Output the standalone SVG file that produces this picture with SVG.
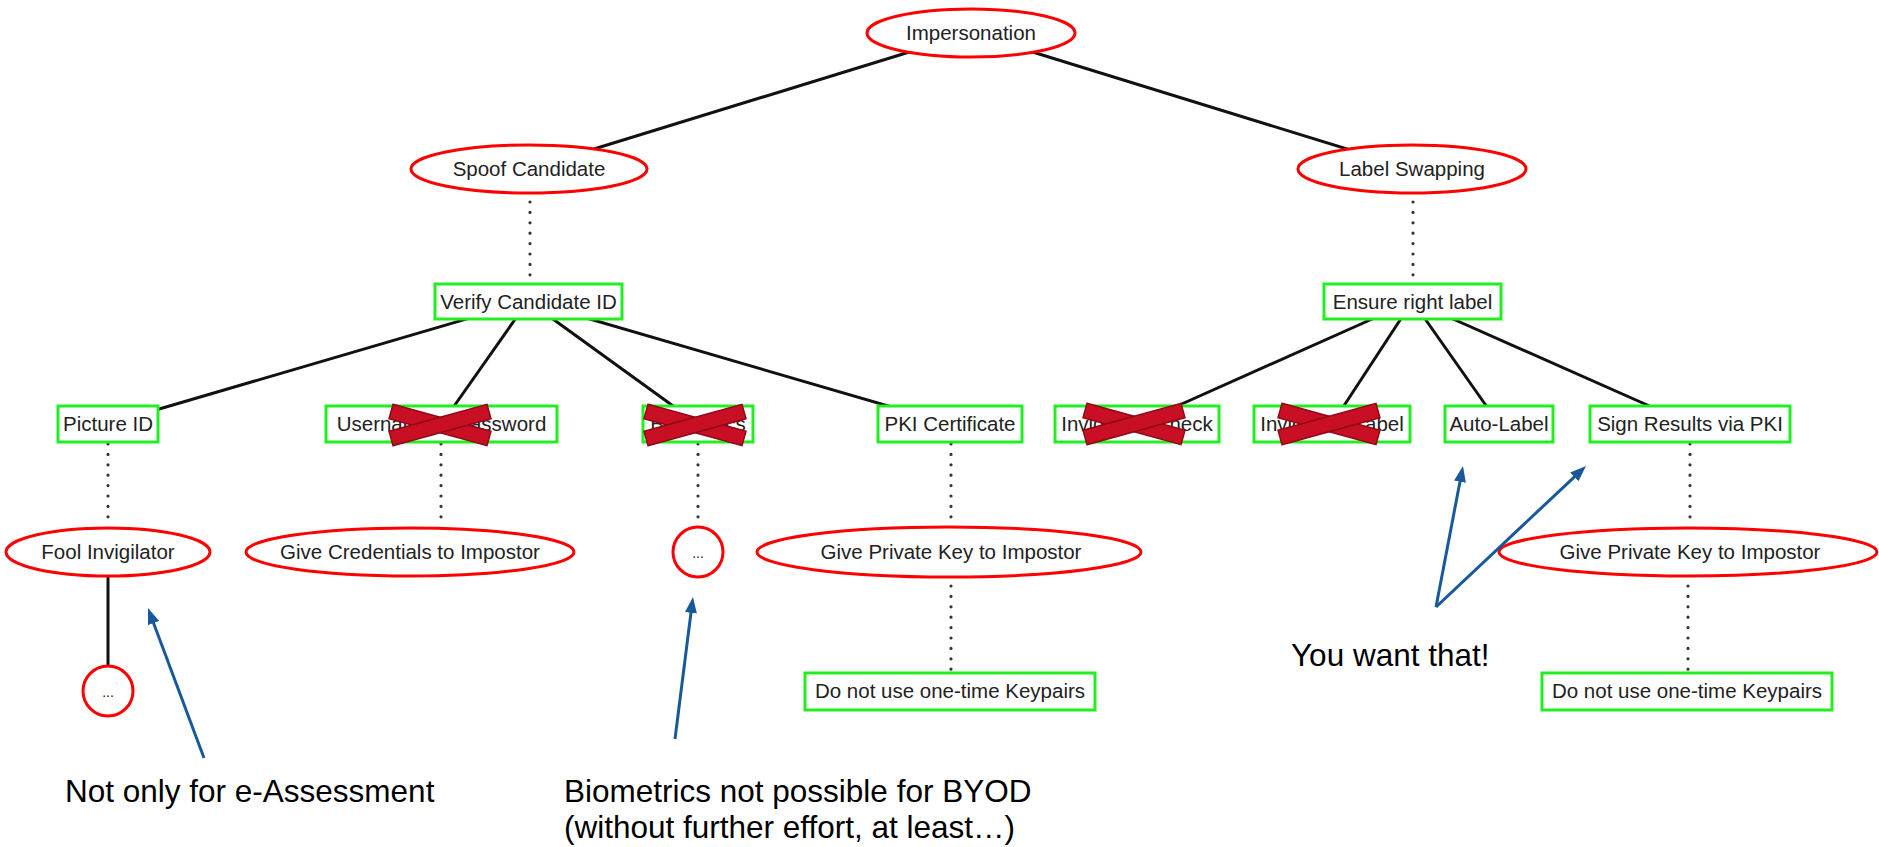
<svg xmlns="http://www.w3.org/2000/svg" width="1879" height="847" viewBox="0 0 1879 847">
  <defs>
    <style>
      .edge { stroke: #111; stroke-width: 3; fill: none; }
      .dots { stroke: #333; stroke-width: 3.2; stroke-linecap: round; stroke-dasharray: 0 10.4; fill: none; }
      .attack { fill: #fff; stroke: #ff0000; stroke-width: 3; }
      .defense { fill: #fff; stroke: #22ee22; stroke-width: 3; }
      .lbl { font-family: "Liberation Sans", Arial, sans-serif; font-size: 20.5px; fill: #222; text-anchor: middle; }
      .small { font-family: "Liberation Sans", Arial, sans-serif; font-size: 14px; fill: #222; text-anchor: middle; }
      .note { font-family: "Liberation Sans", Arial, sans-serif; font-size: 31.5px; fill: #000; }
      .pointer { stroke: #17599a; stroke-width: 3; fill: none; marker-end: url(#head); }
      .xbar { fill: #c90f24; stroke: #8e0a17; stroke-width: 1.5; stroke-linejoin: miter; }
    </style>
    <marker id="head" viewBox="0 0 16 12" refX="6" refY="6" markerWidth="16" markerHeight="12" markerUnits="userSpaceOnUse" orient="auto">
      <path d="M0,0 L16,6 L0,12 z" fill="#17599a"/>
    </marker>
    <!-- strike-through cross for ruled-out countermeasures -->
    <g id="xmark">
      <polygon class="xbar" points="6,0.3 104,27.3 100,41.7 2,14.7"/>
      <polygon class="xbar" points="6,41.7 104,14.7 100,0.3 2,27.3"/>
    </g>
  </defs>

  <rect width="1879" height="847" fill="#fff"/>

  <!-- tree connectors -->
  <g id="connectors">
    <line class="edge" x1="971" y1="33" x2="529" y2="169"/>
    <line class="edge" x1="971" y1="33" x2="1412" y2="169"/>
    <line class="dots" x1="530" y1="202" x2="530" y2="276"/>
    <line class="dots" x1="1413" y1="202" x2="1413" y2="276"/>
    <line class="edge" x1="528" y1="301" x2="108" y2="424"/>
    <line class="edge" x1="528" y1="301" x2="441.5" y2="424"/>
    <line class="edge" x1="528" y1="301" x2="698" y2="424"/>
    <line class="edge" x1="528" y1="301" x2="950" y2="424"/>
    <line class="edge" x1="1412.5" y1="301" x2="1137" y2="424"/>
    <line class="edge" x1="1412.5" y1="301" x2="1332" y2="424"/>
    <line class="edge" x1="1412.5" y1="301" x2="1499" y2="424"/>
    <line class="edge" x1="1412.5" y1="301" x2="1690" y2="424"/>
    <line class="dots" x1="108" y1="444" x2="108" y2="526"/>
    <line class="dots" x1="441" y1="444" x2="441" y2="526"/>
    <line class="dots" x1="698" y1="444" x2="698" y2="526"/>
    <line class="dots" x1="951" y1="444" x2="951" y2="526"/>
    <line class="dots" x1="1690" y1="444" x2="1690" y2="526"/>
    <line class="dots" x1="951" y1="586" x2="951" y2="670"/>
    <line class="dots" x1="1688" y1="586" x2="1688" y2="670"/>
    <line class="edge" x1="108" y1="577" x2="108" y2="666"/>
  </g>

  <!-- attack nodes (red) and countermeasures (green) -->
  <g id="n-impersonation">
    <ellipse class="attack" cx="971" cy="33" rx="104" ry="24"/>
    <text class="lbl" x="971" y="40">Impersonation</text>
  </g>
  <g id="n-spoof">
    <ellipse class="attack" cx="529" cy="169" rx="118" ry="24"/>
    <text class="lbl" x="529" y="176">Spoof Candidate</text>
  </g>
  <g id="n-swapping">
    <ellipse class="attack" cx="1412" cy="169" rx="114" ry="24"/>
    <text class="lbl" x="1412" y="176">Label Swapping</text>
  </g>
  <g id="n-verify">
    <rect class="defense" x="435" y="284" width="187" height="35"/>
    <text class="lbl" x="528.5" y="308.5">Verify Candidate ID</text>
  </g>
  <g id="n-ensure">
    <rect class="defense" x="1324" y="284" width="177" height="35"/>
    <text class="lbl" x="1412.5" y="308.5">Ensure right label</text>
  </g>
  <g id="n-picture">
    <rect class="defense" x="58" y="406" width="100" height="36"/>
    <text class="lbl" x="108" y="431">Picture ID</text>
  </g>
  <g id="n-password">
    <rect class="defense" x="326" y="406" width="231" height="36"/>
    <text class="lbl" x="441.5" y="431">Username &amp; Password</text>
    <use href="#xmark" x="387" y="404"/>
  </g>
  <g id="n-biometrics">
    <rect class="defense" x="643" y="406" width="110" height="36"/>
    <text class="lbl" x="698" y="431">Biometrics</text>
    <use href="#xmark" x="642" y="404"/>
  </g>
  <g id="n-pki">
    <rect class="defense" x="878" y="406" width="144" height="36"/>
    <text class="lbl" x="950" y="431">PKI Certificate</text>
  </g>
  <g id="n-inv-check">
    <rect class="defense" x="1055" y="406" width="164" height="36"/>
    <text class="lbl" x="1137" y="431">Invigilator Check</text>
    <use href="#xmark" x="1081" y="403"/>
  </g>
  <g id="n-inv-label">
    <rect class="defense" x="1254" y="406" width="156" height="36"/>
    <text class="lbl" x="1332" y="431">Invigilator Label</text>
    <use href="#xmark" x="1276" y="403"/>
  </g>
  <g id="n-auto-label">
    <rect class="defense" x="1445" y="406" width="108" height="36"/>
    <text class="lbl" x="1499" y="431">Auto-Label</text>
  </g>
  <g id="n-sign">
    <rect class="defense" x="1590" y="406" width="200" height="36"/>
    <text class="lbl" x="1690" y="431">Sign Results via PKI</text>
  </g>
  <g id="n-fool">
    <ellipse class="attack" cx="108" cy="552" rx="102" ry="24"/>
    <text class="lbl" x="108" y="559">Fool Invigilator</text>
  </g>
  <g id="n-credentials">
    <ellipse class="attack" cx="410" cy="552" rx="164" ry="24"/>
    <text class="lbl" x="410" y="559">Give Credentials to Impostor</text>
  </g>
  <g id="n-bio-more">
    <circle class="attack" cx="698" cy="552" r="25"/>
    <text class="small" x="698" y="558">...</text>
  </g>
  <g id="n-key-left">
    <ellipse class="attack" cx="949" cy="552" rx="192" ry="25"/>
    <text class="lbl" x="951" y="559">Give Private Key to Impostor</text>
  </g>
  <g id="n-key-right">
    <ellipse class="attack" cx="1688" cy="552" rx="189" ry="24"/>
    <text class="lbl" x="1690" y="559">Give Private Key to Impostor</text>
  </g>
  <g id="n-fool-more">
    <circle class="attack" cx="108" cy="691" r="25"/>
    <text class="small" x="108" y="697">...</text>
  </g>
  <g id="n-keypairs-left">
    <rect class="defense" x="805" y="673" width="290" height="37"/>
    <text class="lbl" x="950" y="698">Do not use one-time Keypairs</text>
  </g>
  <g id="n-keypairs-right">
    <rect class="defense" x="1542" y="673" width="290" height="37"/>
    <text class="lbl" x="1687" y="698">Do not use one-time Keypairs</text>
  </g>

  <!-- annotations -->
  <g id="notes">
    <line class="pointer" x1="204" y1="758" x2="151.5" y2="617.4"/>
    <line class="pointer" x1="675" y1="739" x2="691.7" y2="606.9"/>
    <line class="pointer" x1="1436" y1="607" x2="1461.1" y2="475.8"/>
    <line class="pointer" x1="1436" y1="607" x2="1578.7" y2="472.8"/>
    <text class="note" x="65" y="802">Not only for e-Assessment</text>
    <text class="note" x="564" y="802">Biometrics not possible for BYOD</text>
    <text class="note" x="564" y="838">(without further effort, at least…)</text>
    <text class="note" x="1291" y="666">You want that!</text>
  </g>
</svg>
